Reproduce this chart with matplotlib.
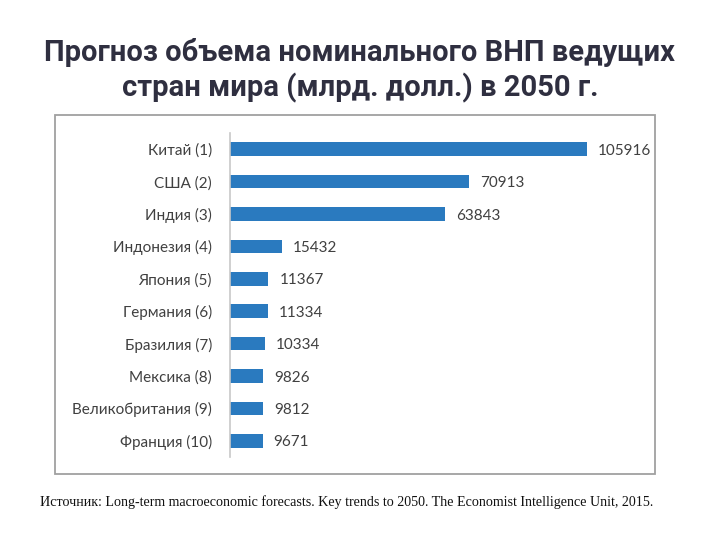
import matplotlib.pyplot as plt
from matplotlib.patches import Rectangle

countries = ["Китай (1)", "США (2)", "Индия (3)", "Индонезия (4)", "Япония (5)",
             "Германия (6)", "Бразилия (7)", "Мексика (8)", "Великобритания (9)",
             "Франция (10)"]
gnp = [105916, 70913, 63843, 15432, 11367, 11334, 10334, 9826, 9812, 9671]

title_lines = ["Прогноз объема номинального ВНП ведущих",
               "стран мира (млрд. долл.) в 2050 г."]
source = ("Источник: Long-term macroeconomic forecasts. Key trends to 2050. "
          "The Economist Intelligence Unit, 2015.")

fig = plt.figure(figsize=(7.2, 5.4), dpi=100)

# frame around the chart
fig.patches.append(Rectangle((0.0764, 0.1222), 0.8333, 0.6648, transform=fig.transFigure,
                             fill=False, edgecolor="#a0a0a0", linewidth=1.3))

ax = fig.add_axes([0.3194, 0.1537, 0.5694, 0.6])
ypos = range(len(countries))
ax.barh(ypos, gnp, height=0.42, color="#2a7abf")
ax.set_ylim(len(countries) - 0.5, -0.5)
ax.set_xlim(0, 121640)
ax.set_yticks(list(ypos))
ax.set_yticklabels(countries, fontsize=11, color="#404040", family="Lato")
ax.tick_params(axis="y", length=0, pad=13)
ax.set_xticks([])
for s in ["top", "right", "bottom"]:
    ax.spines[s].set_visible(False)
ax.spines["left"].set_color("#c8c8c8")
ax.spines["left"].set_linewidth(1.2)

for y, v in zip(ypos, gnp):
    ax.annotate(str(v), (v, y), xytext=(8, 0), textcoords="offset points",
                va="center_baseline", ha="left", fontsize=11, color="#404040", family="Lato")

fig.text(0.5, 0.9037, title_lines[0], ha="center", va="center", fontsize=21,
         fontweight="bold", color="#2f2f40", family="Roboto")
fig.text(0.5, 0.8370, title_lines[1], ha="center", va="center", fontsize=21,
         fontweight="bold", color="#2f2f40", family="Roboto")
fig.text(0.056, 0.07, source, ha="left", va="center", fontsize=10.1,
         family="Liberation Serif", color="#111111")

fig.savefig("out.png", dpi=100)
